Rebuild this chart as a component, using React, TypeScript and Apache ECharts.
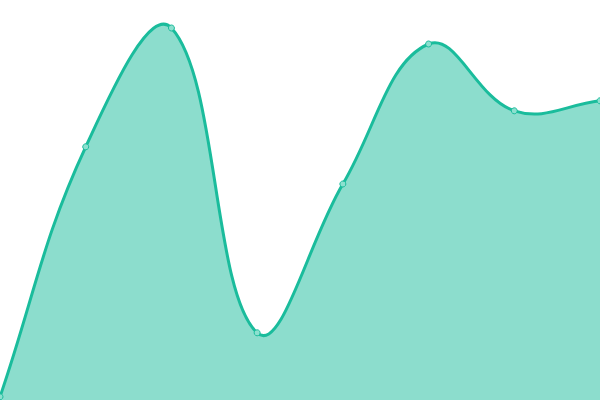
import { useEffect, useRef } from 'react';
import * as echarts from 'echarts';

const categories = ['1', '2', '3', '4', '5', '6', '7', '8'];
const values = [0.8, 63.3, 93, 16.8, 54, 89, 72.3, 74.8];

const LINE_COLOR = '#1abc9c';
const TENSION = 0.4;

// spline through the points, control points weighted by segment length
function splinePath(pts: number[][]) {
  const cps = pts.map((p, i) => {
    const prev = pts[i - 1] || p;
    const next = pts[i + 1] || p;
    const d01 = Math.hypot(p[0] - prev[0], p[1] - prev[1]);
    const d12 = Math.hypot(next[0] - p[0], next[1] - p[1]);
    const sum = d01 + d12 || 1;
    const fa = (TENSION * d01) / sum;
    const fb = (TENSION * d12) / sum;
    const dx = next[0] - prev[0];
    const dy = next[1] - prev[1];
    return {
      before: [p[0] - fa * dx, p[1] - fa * dy],
      after: [p[0] + fb * dx, p[1] + fb * dy],
    };
  });
  let d = `M${pts[0][0]},${pts[0][1]}`;
  for (let i = 1; i < pts.length; i++) {
    const a = cps[i - 1].after;
    const b = cps[i].before;
    d += ` C${a[0]},${a[1]} ${b[0]},${b[1]} ${pts[i][0]},${pts[i][1]}`;
  }
  return d;
}

export default function App() {
  const chartRef = useRef<HTMLDivElement>(null);

  useEffect(() => {
    if (!chartRef.current) return;
    const chart = echarts.init(chartRef.current, undefined, { renderer: 'svg' });

    const option: echarts.EChartsOption = {
      animation: false,
      grid: { left: 0, right: 0, top: 0, bottom: 0 },
      xAxis: {
        type: 'category',
        data: categories,
        boundaryGap: false,
        show: false,
      },
      yAxis: {
        type: 'value',
        min: 0,
        max: 100,
        show: false,
      },
      series: [
        {
          type: 'custom',
          data: values.map((v, i) => [i, v]),
          clip: false,
          renderItem: (params: any, api: any) => {
            if (params.dataIndex !== 0) return null;
            const pts = values.map((v, i) => api.coord([i, v]));
            const line = splinePath(pts);
            const bottom = params.coordSys.y + params.coordSys.height;
            const area = `${line} L${pts[pts.length - 1][0]},${bottom} L${pts[0][0]},${bottom} Z`;
            return {
              type: 'group',
              children: [
                {
                  type: 'path',
                  shape: { pathData: area },
                  style: { fill: 'rgba(26,188,156,0.5)', stroke: 'none' },
                },
                {
                  type: 'path',
                  shape: { pathData: line },
                  style: { fill: 'none', stroke: LINE_COLOR, lineWidth: 3 },
                },
              ],
            };
          },
          z: 2,
        },
        {
          type: 'scatter',
          data: values,
          symbol: 'circle',
          symbolSize: 6,
          itemStyle: { color: '#8ce0cf', borderColor: LINE_COLOR, borderWidth: 1, opacity: 1 },
          z: 3,
        },
      ],
    };

    chart.setOption(option);
    return () => chart.dispose();
  }, []);

  return <div ref={chartRef} style={{ width: 600, height: 400, position: 'absolute', left: 0, top: 0 }} />;
}
